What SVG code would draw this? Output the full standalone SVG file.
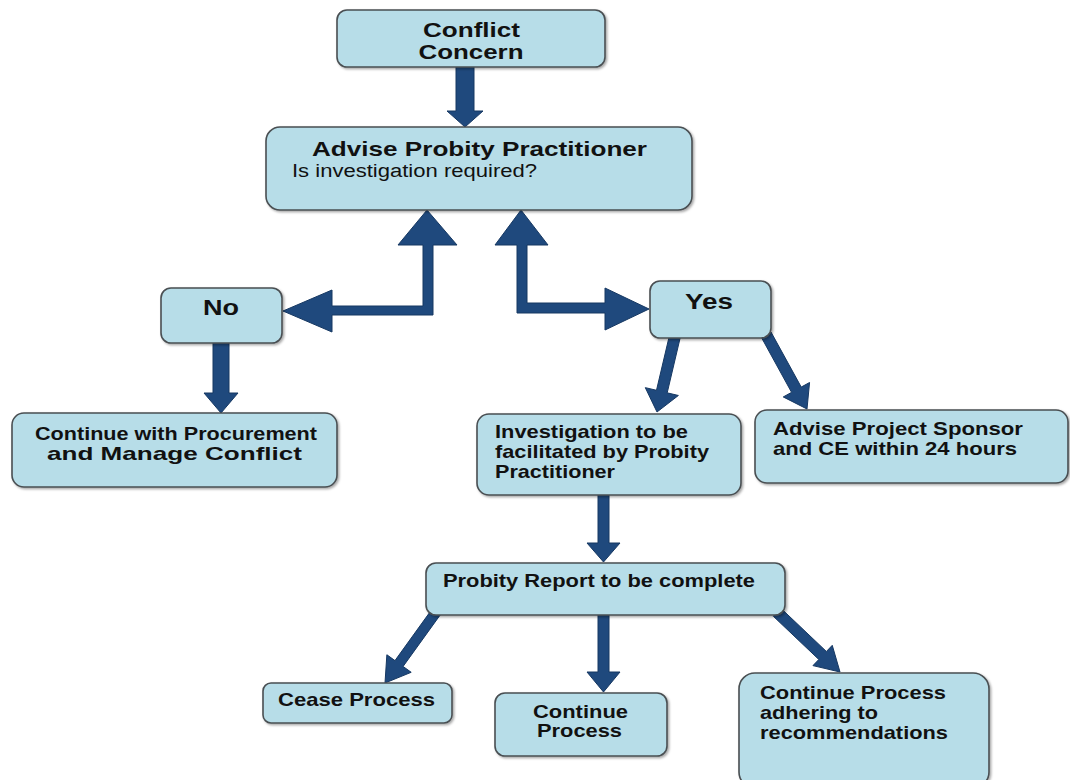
<svg xmlns="http://www.w3.org/2000/svg" width="1070" height="780" viewBox="0 0 1070 780">
<defs>
<filter id="sh" x="-5%" y="-5%" width="110%" height="120%">
<feDropShadow dx="1.5" dy="1.5" stdDeviation="1" flood-color="#000" flood-opacity="0.35"/>
</filter>
<style>
.box{fill:#b7dde8;stroke:#4a4f52;stroke-width:1.6;filter:url(#sh)}
.arr{fill:#1f497d;stroke:#163862;stroke-width:1;stroke-linejoin:miter}
text{font-family:"Liberation Sans",Arial,sans-serif;font-weight:bold;fill:#111;font-size:19px}
.big{font-size:22px}
.top{font-size:20px}
.title{font-size:21px}
.reg{font-weight:normal;font-size:18px}
</style>
</defs>
<rect width="1070" height="780" fill="#fff"/>
<g id="connectors">
<polygon class="arr" points="456,64 474,64 474,111 483,111 465,127 447,111 456,111"/>
<polygon class="arr" points="427,210 457,245 433,245 433,315 332,315 332,332 283,311 332,290 332,306 423,306 423,245 398,245"/>
<polygon class="arr" points="521,210 548,245 527,245 527,303 605,303 605,288 649,309 605,330 605,313 517,313 517,245 495,245"/>
<polygon class="arr" points="213,340 229,340 229,393 238,393 221,413 204,393 213,393"/>
<polygon class="arr" points="670.05,332.83 680.75,335.37 667.19,392.83 678.38,395.48 657,412 645.3,387.64 656.49,390.29"/>
<polygon class="arr" points="761.25,337.14 770.89,331.84 801.23,387.07 809.56,382.5 807,409 783.26,396.94 791.59,392.37"/>
<polygon class="arr" points="598,491 609,491 609,543 620,543 603.5,562 587,543 598,543"/>
<polygon class="arr" points="432.28,608.83 440.4,614.67 403.09,666.45 411.2,672.3 385,683 386.86,654.76 394.97,660.61"/>
<polygon class="arr" points="598,611 609,611 609,672 620,672 603.5,692 587,672 598,672"/>
<polygon class="arr" points="773.31,616.24 780.89,608.26 826.4,651.49 832.25,645.34 840,672 812.97,665.62 818.82,659.47"/>
</g>
<g id="conflict">
<rect class="box" x="337" y="10" width="268" height="57" rx="10"/>
<text class="top" x="471.5" y="37" text-anchor="middle" textLength="97" lengthAdjust="spacingAndGlyphs">Conflict</text>
<text class="top" x="471" y="59" text-anchor="middle" textLength="105" lengthAdjust="spacingAndGlyphs">Concern</text>
</g>
<g id="advise">
<rect class="box" x="266" y="127" width="426" height="83" rx="14"/>
<text class="title" x="312" y="156" textLength="335" lengthAdjust="spacingAndGlyphs">Advise Probity Practitioner</text>
<text class="reg" x="292" y="177" textLength="245" lengthAdjust="spacingAndGlyphs">Is investigation required?</text>
</g>
<g id="no">
<rect class="box" x="161" y="288" width="121" height="55" rx="10"/>
<text class="big" x="221" y="315" text-anchor="middle" textLength="36" lengthAdjust="spacingAndGlyphs">No</text>
</g>
<g id="yes">
<rect class="box" x="650" y="281" width="121" height="57" rx="10"/>
<text class="big" x="709" y="309" text-anchor="middle" textLength="48" lengthAdjust="spacingAndGlyphs">Yes</text>
</g>
<g id="procure">
<rect class="box" x="12" y="413" width="325" height="74" rx="12"/>
<text x="35" y="440" textLength="282" lengthAdjust="spacingAndGlyphs">Continue with Procurement</text>
<text x="47" y="460" textLength="255" lengthAdjust="spacingAndGlyphs">and Manage Conflict</text>
</g>
<g id="investigation">
<rect class="box" x="477" y="414" width="264" height="81" rx="12"/>
<text x="495" y="438" textLength="193" lengthAdjust="spacingAndGlyphs">Investigation to be</text>
<text x="495" y="458" textLength="214" lengthAdjust="spacingAndGlyphs">facilitated by Probity</text>
<text x="495" y="478" textLength="120" lengthAdjust="spacingAndGlyphs">Practitioner</text>
</g>
<g id="sponsor">
<rect class="box" x="755" y="410" width="313" height="73" rx="12"/>
<text x="773" y="435" textLength="250" lengthAdjust="spacingAndGlyphs">Advise Project Sponsor</text>
<text x="773" y="455" textLength="244" lengthAdjust="spacingAndGlyphs">and CE within 24 hours</text>
</g>
<g id="probity">
<rect class="box" x="426" y="563" width="359" height="52" rx="10"/>
<text x="443" y="587" textLength="312" lengthAdjust="spacingAndGlyphs">Probity Report to be complete</text>
</g>
<g id="cease">
<rect class="box" x="263" y="683" width="189" height="40" rx="8"/>
<text x="278" y="706" textLength="157" lengthAdjust="spacingAndGlyphs">Cease Process</text>
</g>
<g id="continue">
<rect class="box" x="495" y="693" width="172" height="63" rx="10"/>
<text x="580.5" y="718" text-anchor="middle" textLength="95" lengthAdjust="spacingAndGlyphs">Continue</text>
<text x="579.5" y="737" text-anchor="middle" textLength="85" lengthAdjust="spacingAndGlyphs">Process</text>
</g>
<g id="recommendations">
<rect class="box" x="739" y="673" width="250" height="115" rx="16"/>
<text x="760" y="699" textLength="186" lengthAdjust="spacingAndGlyphs">Continue Process</text>
<text x="760" y="719" textLength="118" lengthAdjust="spacingAndGlyphs">adhering to</text>
<text x="760" y="739" textLength="188" lengthAdjust="spacingAndGlyphs">recommendations</text>
</g>
</svg>
